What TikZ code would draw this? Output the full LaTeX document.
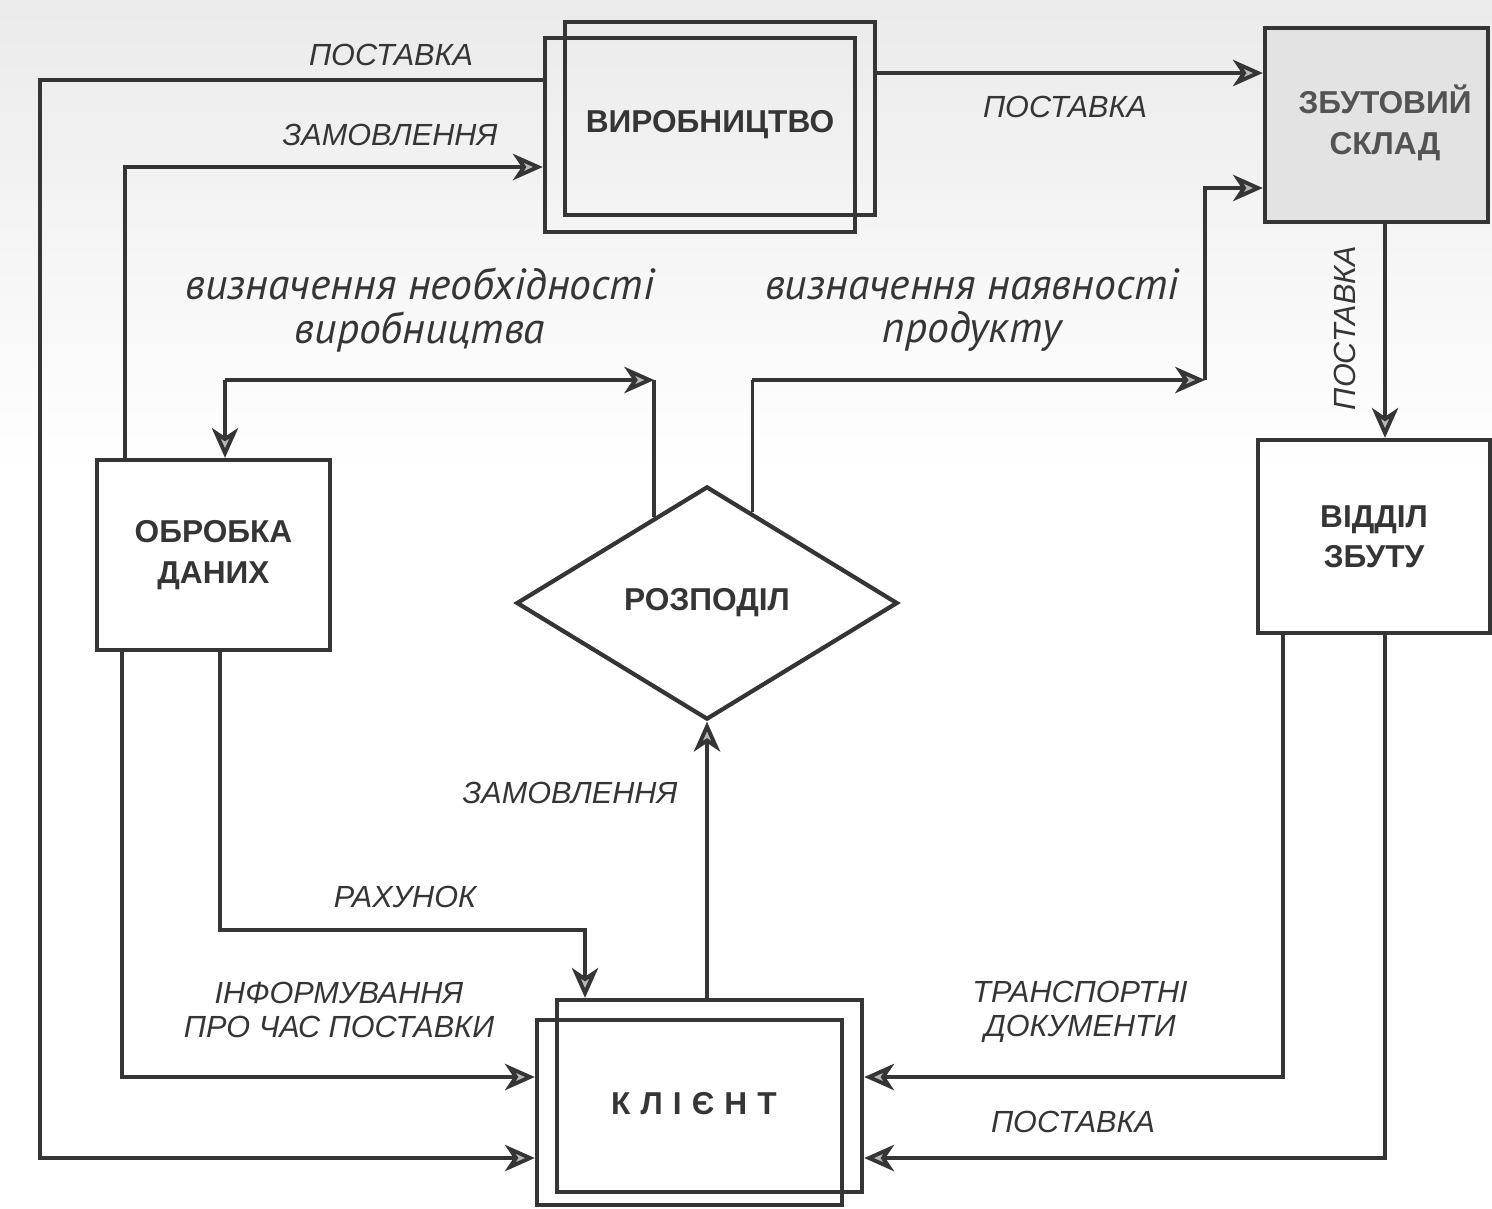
\documentclass[tikz,border=0pt]{standalone}
\usepackage{fontspec}
\setmainfont{Liberation Sans}
\newfontfamily\labfont{PT Sans}
\newfontfamily\spacedfont[LetterSpace=32]{Liberation Sans}
\usetikzlibrary{arrows.meta,shapes.geometric,calc}
\definecolor{ink}{HTML}{353535}
\begin{document}
\begin{tikzpicture}[x=0.01cm,y=-0.01cm,
  line width=1.1pt, draw=ink,
  box/.style={draw=ink, line width=1.2pt, inner sep=0pt},
  boxtext/.style={font=\fontsize{9}{10.5}\selectfont\bfseries, text=ink, align=center, inner sep=0pt},
  lab/.style={font=\fontsize{8.7}{9.8}\selectfont\itshape, text=ink, align=center, inner sep=0pt},
  biglab/.style={font=\labfont\fontsize{12.4}{12.5}\selectfont\itshape, text=ink, align=center, inner sep=0pt},
  arr/.style={-{Stealth[length=8.5pt,width=7.5pt,inset=2.5pt,fill=gray!55]}, draw=ink}
]
\useasboundingbox (0,0) rectangle (1492,1208);
\fill[white] (0,0) rectangle (1492,1208);
\shade[top color=gray!16, bottom color=white] (0,0) rectangle (1492,470);

% nodes
\node[box, minimum width=3.1cm, minimum height=1.93cm] (prodA) at (720,118.5) {};
\node[box, minimum width=3.1cm, minimum height=1.94cm] (prodB) at (700,135) {};
\node[boxtext] (prodT) at (710,125) {ВИРОБНИЦТВО};

\node[box, fill=gray!22, minimum width=2.23cm, minimum height=1.94cm] (sklad) at (1376.5,125) {};
\node[boxtext, text=ink!85] (skladT) at (1385,123) {ЗБУТОВИЙ\\[1pt]СКЛАД};

\node[box, minimum width=2.33cm, minimum height=1.9cm, boxtext] (obr) at (213.5,555) {ОБРОБКА\\[1pt]ДАНИХ};

\node[box, minimum width=2.32cm, minimum height=1.93cm, boxtext] (viddil) at (1374,536.5) {ВІДДІЛ\\[1pt]ЗБУТУ};

\node[box, diamond, minimum width=3.81cm, minimum height=2.33cm, boxtext] (rozp) at (707,603) {РОЗПОДІЛ};

\node[box, minimum width=3.05cm, minimum height=1.92cm] (clientA) at (709.5,1096) {};
\node[box, minimum width=3.05cm, minimum height=1.85cm] (clientB) at (689.5,1112.5) {};
\node[boxtext, font=\spacedfont\fontsize{9}{10.5}\selectfont\bfseries] (clientT) at (694,1104) {КЛІЄНТ};

% labels
\node[lab] (l1) at (391,55) {ПОСТАВКА};
\node[lab] (l2) at (390,135) {ЗАМОВЛЕННЯ};
\node[lab] (l3) at (1065,107) {ПОСТАВКА};
\node[lab, rotate=90] (l4) at (1345,328) {ПОСТАВКА};
\node[lab] (l5) at (570,793) {ЗАМОВЛЕННЯ};
\node[lab] (l6) at (405,897) {РАХУНОК};
\node[lab] (l7) at (339,1010) {ІНФОРМУВАННЯ\\ПРО ЧАС ПОСТАВКИ};
\node[lab] (l8) at (1080,1012) {ТРАНСПОРТНІ\\ДОКУМЕНТИ};
\node[lab] (l9) at (1073,1122) {ПОСТАВКА};
\node[biglab] (l10) at (420,310) {визначення необхідності\\виробництва};
\node[biglab] (l11) at (972,310) {визначення наявності\\продукту};

% helper coordinates
\coordinate (dl) at ($(rozp.west)!0.726!(rozp.north)$);
\coordinate (dr) at ($(rozp.north)!0.236!(rozp.east)$);
\coordinate (cL) at (dl |- 0,380);
\coordinate (cL2) at (225,380);
\coordinate (cR) at (1205,380);
\coordinate (dR) at (dr |- 0,380);

% connectors
\draw[arr] (prodB.west |- 0,80) -| (40,1158) -- (clientB.west |- 0,1158);
\draw[arr] (obr.north -| 125,0) |- (prodB.west |- 0,167);
\draw[arr] (prodA.east |- 0,73) -- (sklad.west |- 0,73);

\draw (dl) -- (cL);
\draw[arr] (cL2) -- (cL);
\draw[arr] (cL2) -- (obr.north -| cL2);

\draw (dr) -- (dR);
\draw[arr] (dR) -- (cR);
\draw[arr] (cR) |- (sklad.west |- 0,188);

\draw[arr] (sklad.south -| 1385,0) -- (viddil.north -| 1385,0);
\draw[arr] (viddil.south -| 1283,0) |- (clientA.east |- 0,1077);
\draw[arr] (viddil.south -| 1385,0) |- (clientA.east |- 0,1158);

\draw[arr] (obr.south -| 122,0) |- (clientB.west |- 0,1077);
\draw[arr] (obr.south -| 220,0) |- (585,930) -- (clientA.north -| 585,0);
\draw[arr] (clientA.north -| rozp.south) -- (rozp.south);
\end{tikzpicture}
\end{document}
